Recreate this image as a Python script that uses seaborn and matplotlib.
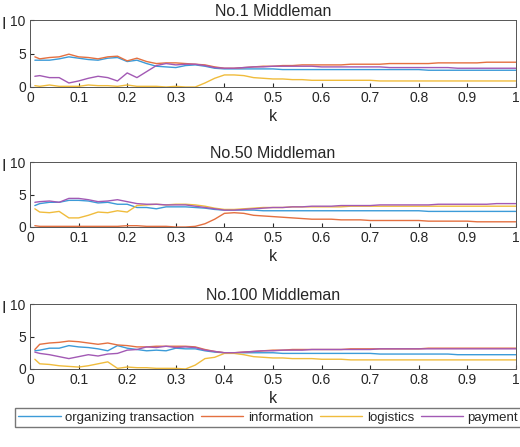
import numpy as np
import pandas as pd
import seaborn as sns
import matplotlib
matplotlib.use('Agg')
import matplotlib.pyplot as plt

k = [0.01] + [round(0.02 * i, 2) for i in range(1, 51)]

def tail(vals, counts):
    out = []
    for v, c in zip(vals, counts):
        out += [v] * c
    return out

# No.1 Middleman
p1_org = [4.0,4.0,4.0,4.2,4.5,4.3,4.1,4.0,4.3,4.4,3.8,4.0,3.5,3.1,3.0,2.9,3.2,3.3,3.1,2.8,2.7] + tail([2.7,2.6,2.5],[5,15,10])
p1_info = [4.5,4.2,4.4,4.5,4.9,4.5,4.4,4.2,4.5,4.6,3.9,4.3,3.8,3.5,3.6,3.6,3.5,3.4,3.3,3.0,2.8,
           2.8,2.9,3.0,3.1,3.1,3.2,3.2,3.3,3.3,3.3,3.3,3.3,3.4,3.4,3.4,3.4,3.5,3.5,3.5,3.5,3.5,3.6,3.6,3.6,3.6,3.6,3.7,3.7,3.7,3.7]
p1_log = [0.2,0.1,0.3,0.1,0.1,0.1,0.3,0.2,0.2,0.1,0.3,0.1,0.1,0.1,0.0,0.1,0.0,0.0,0.6,1.3,1.8,
          1.8,1.7,1.4,1.3,1.2,1.2,1.1,1.1,1.0,1.0,1.0,1.0,1.0,1.0,1.0] + [0.9] * 15
p1_pay = [1.6,1.7,1.4,1.4,0.6,0.9,1.3,1.6,1.4,0.9,2.1,1.4,2.3,3.2,3.5,3.3,3.4,3.4,3.2,2.9,2.8,
          2.8,2.9,3.0,3.0,3.1,3.1,3.1,3.1,3.1,3.0,3.0,3.0,3.0,3.0,3.0,3.0,2.9,2.9,2.9,2.9,2.9,2.9,2.9,2.8,2.8,2.8,2.8,2.8,2.8,2.8]

# No.50 Middleman
p50_org = [3.3,3.6,3.8,3.8,4.1,4.1,4.0,3.7,3.8,3.5,3.5,3.0,3.0,2.8,3.1,3.1,3.1,3.0,2.9,2.7,2.6] + tail([2.6,2.5,2.4],[3,17,10])
p50_info = [0.2,0.1,0.1,0.1,0.1,0.1,0.1,0.1,0.1,0.1,0.2,0.2,0.1,0.1,0.1,0.0,0.0,0.1,0.5,1.2,2.1,
            2.2,2.1,1.8,1.7,1.6,1.5,1.4,1.3,1.2,1.2,1.2,1.1,1.1,1.1,1.0,1.0,1.0,1.0,1.0,1.0,0.9,0.9,0.9,0.9,0.9,0.8,0.8,0.8,0.8,0.8]
p50_log = [2.8,2.3,2.2,2.4,1.4,1.4,1.8,2.3,2.2,2.5,2.3,3.3,3.4,3.5,3.4,3.5,3.5,3.4,3.2,2.9,2.7,
           2.7,2.8,2.9,3.0,3.0,3.0,3.1,3.1,3.1,3.1,3.1,3.1] + [3.2] * 18
p50_pay = [3.8,3.9,4.0,3.8,4.4,4.4,4.2,3.9,4.0,4.2,3.9,3.6,3.5,3.5,3.4,3.4,3.4,3.2,3.0,2.8,2.6,
           2.6,2.7,2.8,2.9,3.0,3.0,3.1,3.1,3.2,3.2,3.2,3.3,3.3,3.3,3.3,3.4,3.4,3.4,3.4,3.4,3.4,3.5,3.5,3.5,3.5,3.5,3.5,3.6,3.6,3.6]

# No.100 Middleman
p100_org = [2.8,2.9,3.2,3.2,3.6,3.4,3.3,3.1,2.8,3.6,3.2,3.0,2.8,2.9,2.8,3.2,3.1,3.1,2.8,2.6,2.5] + tail([2.5,2.4,2.3,2.2],[5,10,8,7])
p100_info = [3.0,3.8,4.0,4.1,4.3,4.2,4.0,3.8,4.0,3.7,3.6,3.4,3.4,3.5,3.5,3.5,3.5,3.4,3.0,2.7,2.5,
             2.5,2.6,2.7,2.8,2.9,2.9,3.0,3.0,3.0,3.0,3.0,3.0,3.1,3.1,3.1,3.1,3.1,3.1,3.1,3.1,3.2,3.2,3.2,3.2,3.2,3.2,3.2,3.2,3.2,3.2]
p100_log = [1.5,0.8,0.7,0.5,0.4,0.3,0.5,0.8,1.1,0.1,0.3,0.2,0.2,0.1,0.1,0.1,0.0,0.6,1.6,1.8,2.4,
            2.4,2.2,1.9,1.8,1.7,1.7,1.6,1.6,1.6,1.5,1.5,1.5] + [1.4] * 18
p100_pay = [2.6,2.4,2.2,1.9,1.6,1.9,2.2,2.0,2.3,2.4,2.9,3.0,3.4,3.3,3.5,3.3,3.4,3.3,2.9,2.7,2.5,
            2.5,2.6,2.7,2.8,2.8,2.9,2.9,2.9,3.0,3.0,3.0,3.0,3.0,3.0,3.0,3.1,3.1,3.1,3.1,3.1,3.1,3.1,3.1,3.1,3.1,3.1,3.1,3.1,3.1,3.1]

series = ['organizing transaction', 'information', 'logistics', 'payment']
colors = ['#3C9BD8', '#E47040', '#F0BC3C', '#A259B4']
panels = [('No.1 Middleman', [p1_org, p1_info, p1_log, p1_pay]),
          ('No.50 Middleman', [p50_org, p50_info, p50_log, p50_pay]),
          ('No.100 Middleman', [p100_org, p100_info, p100_log, p100_pay])]

sns.set_style('white')
plt.rcParams['font.family'] = ['Liberation Sans', 'DejaVu Sans']
fig = plt.figure(figsize=(5.2, 4.47), dpi=100)
# (top, bottom) of each axes in pixels
boxes = [(20, 87), (162, 227), (304, 369)]
for i, ((title, vals), (top, bot)) in enumerate(zip(panels, boxes)):
    ax = fig.add_axes([30 / 520, 1 - bot / 447, 486 / 520, (bot - top) / 447])
    rows = []
    for name, v in zip(series, vals):
        rows += [{'k': kk, 'I': vv, 'series': name} for kk, vv in zip(k, v)]
    df = pd.DataFrame(rows)
    last = i == len(panels) - 1
    sns.lineplot(data=df, x='k', y='I', hue='series', palette=colors, linewidth=1, ax=ax, legend=last)
    ax.set_xlim(0, 1)
    ax.set_ylim(0, 10)
    ax.set_xticks(np.arange(0, 1.01, 0.1))
    ax.set_xticklabels(['0', '0.1', '0.2', '0.3', '0.4', '0.5', '0.6', '0.7', '0.8', '0.9', '1'])
    ax.set_yticks([0, 5, 10])
    ax.set_title(title, fontsize=11.5, pad=3)
    ax.set_xlabel('k', fontsize=11.5, labelpad=3)
    ax.set_ylabel('I', fontsize=11.5, rotation=0, labelpad=8)
    ax.yaxis.set_label_coords(-0.055, 0.82)
    ax.tick_params(labelsize=10, direction='in', length=3, pad=3, bottom=True, left=True)
    for s in ax.spines.values():
        s.set_color('#555555')
        s.set_linewidth(0.7)
    if last:
        ax.legend(loc='upper center', bbox_to_anchor=(0.49, -0.6), ncol=4, fontsize=9.5,
                  frameon=True, fancybox=False, edgecolor='#555555', handlelength=3.2,
                  columnspacing=0.5, handletextpad=0.35, borderpad=0.25, borderaxespad=0)

fig.savefig('out.png', dpi=100)
